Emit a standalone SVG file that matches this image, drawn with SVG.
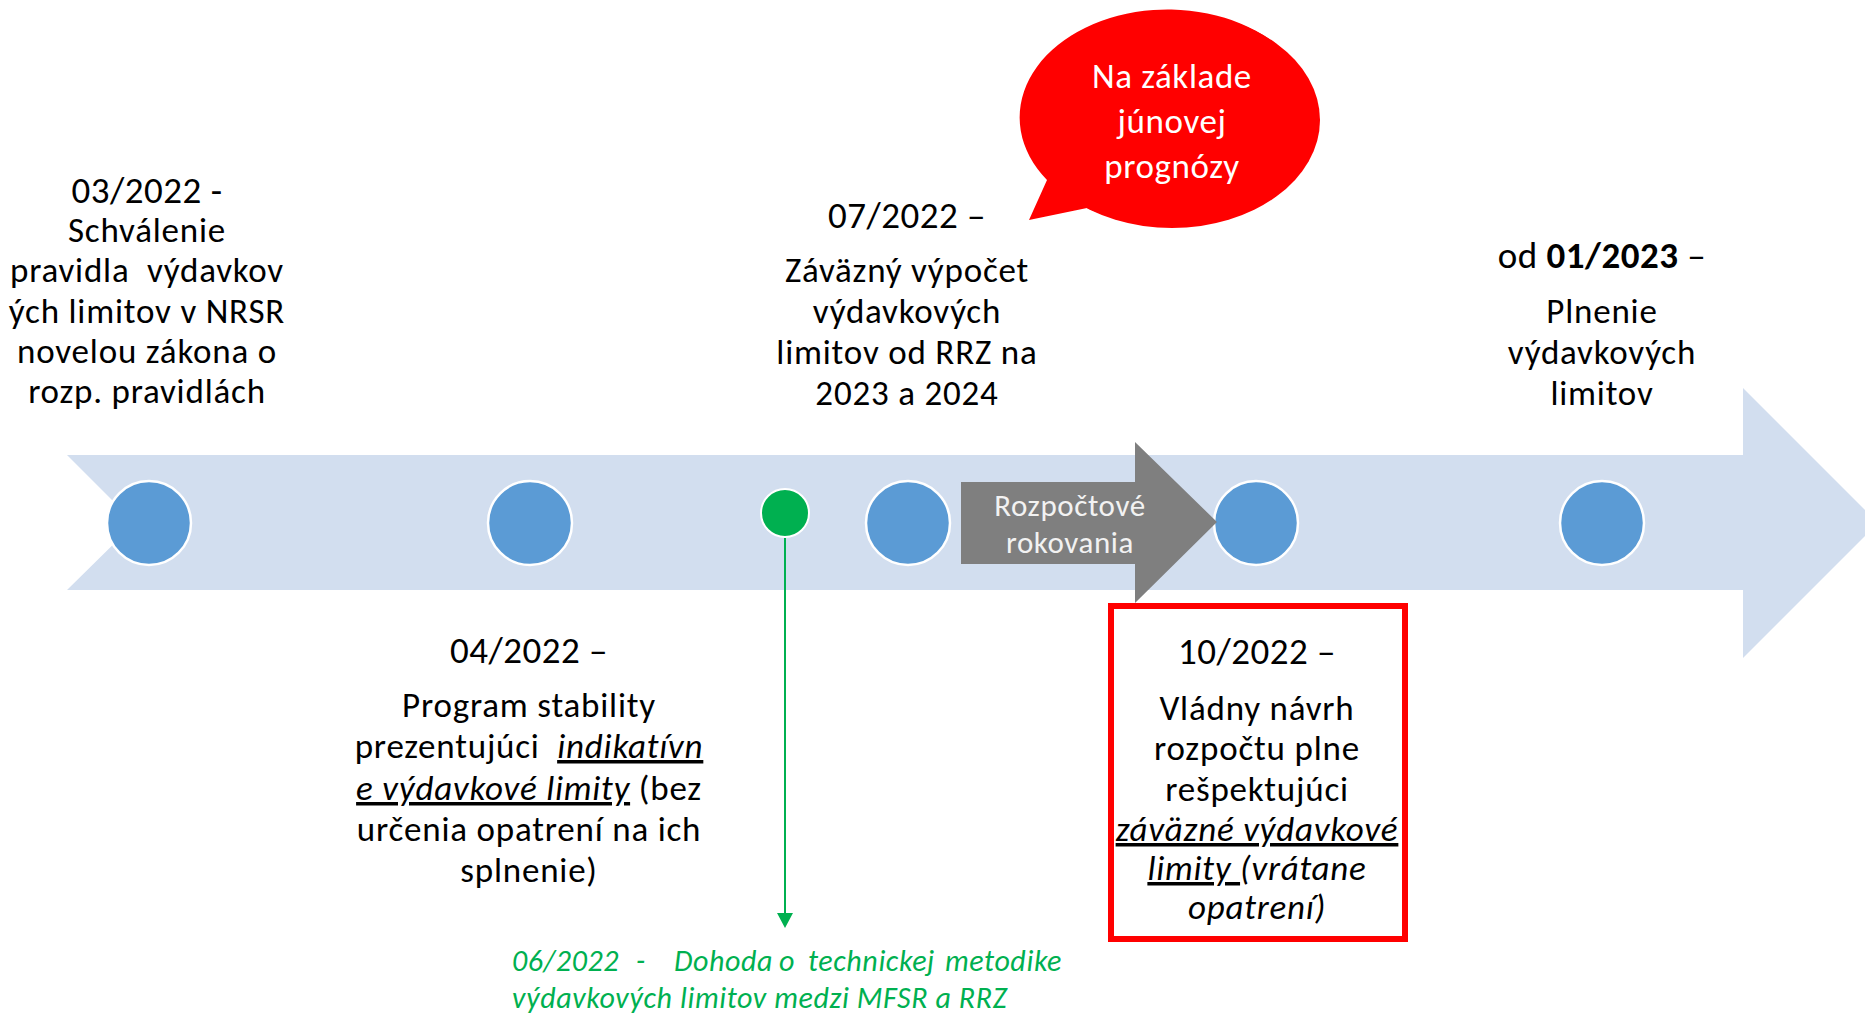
<svg xmlns="http://www.w3.org/2000/svg" width="1865" height="1013" viewBox="0 0 1865 1013">
<style>
  text { font-family: Carlito, Lato, "Liberation Sans", sans-serif; fill: #000; text-anchor: middle; white-space: pre; }
  .date { font-size: 37px; letter-spacing: 0.5px; }
  .body { font-size: 35px; letter-spacing: 0.8px; }
  .it { font-style: italic; }
  .ul { text-decoration: underline; }
  .b { font-weight: bold; }
  .dot { fill: #5B9BD5; stroke: #FFFFFF; stroke-width: 2.5; }
  .bubble { fill: #FF0000; }
  .btxt { font-size: 35px; letter-spacing: 0.6px; fill: #FFFFFF; }
  .gtxt { font-size: 31px; letter-spacing: 0.6px; fill: #F2F2F2; }
  .green { font-size: 30px; letter-spacing: 0.6px; fill: #00B050; font-style: italic; text-anchor: start; }
</style>

<g id="timeline-band">
  <polygon points="67,455 1743,455 1743,388 1878,523 1743,658 1743,590 67,590 135,523" fill="#D2DEEF"/>
</g>

<g id="connectors">
  <line x1="785" y1="538" x2="785" y2="914" stroke="#00B050" stroke-width="2"/>
  <polygon points="777,913 793,913 785,928" fill="#00B050"/>
</g>

<g id="node-03-2022">
  <circle class="dot" cx="149" cy="523" r="42"/>
  <text class="date" x="147" y="203">03/2022 -</text>
  <text class="body" x="147" y="242">Schválenie</text>
  <text class="body" x="147" y="282">pravidla  výdavkov</text>
  <text class="body" x="147" y="323">ých limitov v NRSR</text>
  <text class="body" x="147" y="363">novelou zákona o</text>
  <text class="body" x="147" y="403">rozp. pravidlách</text>
</g>

<g id="node-04-2022">
  <circle class="dot" cx="530" cy="523" r="42"/>
  <text class="date" x="529" y="663">04/2022 –</text>
  <text class="body" x="529" y="717">Program stability</text>
  <text class="body" x="529" y="758">prezentujúci  <tspan class="it ul">indikatívn</tspan></text>
  <text class="body" x="529" y="800"><tspan class="it ul">e výdavkové limity</tspan> (bez</text>
  <text class="body" x="529" y="841">určenia opatrení na ich</text>
  <text class="body" x="529" y="882">splnenie)</text>
</g>

<g id="node-06-2022">
  <circle cx="785" cy="513" r="24" fill="#00B050" stroke="#FFFFFF" stroke-width="2"/>
  <text class="green" y="971"><tspan x="512">06/2022</tspan><tspan x="636">-</tspan><tspan x="674">Dohoda</tspan><tspan x="779">o</tspan><tspan x="808">technickej</tspan><tspan x="945">metodike</tspan></text>
  <text class="green" x="512" y="1008">výdavkových limitov medzi MFSR a RRZ</text>
</g>

<g id="node-07-2022">
  <circle class="dot" cx="908" cy="523" r="42"/>
  <text class="date" x="907" y="228">07/2022 –</text>
  <text class="body" x="907" y="282">Záväzný výpočet</text>
  <text class="body" x="907" y="323">výdavkových</text>
  <text class="body" x="907" y="364">limitov od RRZ na</text>
  <text class="body" x="907" y="405">2023 a 2024</text>
</g>

<g id="bubble">
  <path class="bubble" d="M1047,180 L1029,220 L1087,208 A148,108 0 1 0 1047,180 Z"/>
  <ellipse class="bubble" cx="1172" cy="120" rx="148" ry="108"/>
  <text class="btxt" x="1172" y="88">Na základe</text>
  <text class="btxt" x="1172" y="133">júnovej</text>
  <text class="btxt" x="1172" y="178">prognózy</text>
</g>

<g id="node-10-2022">
  <circle class="dot" cx="1256" cy="523" r="42"/>
  <rect x="1111" y="606" width="294" height="333" fill="none" stroke="#FF0000" stroke-width="6"/>
  <text class="date" x="1257" y="664">10/2022 –</text>
  <text class="body" x="1257" y="720">Vládny návrh</text>
  <text class="body" x="1257" y="760">rozpočtu plne</text>
  <text class="body" x="1257" y="801">rešpektujúci</text>
  <text class="body it ul" x="1257" y="841">záväzné výdavkové</text>
  <text class="body it" x="1257" y="880"><tspan class="ul">limity </tspan>(vrátane</text>
  <text class="body it" x="1257" y="919">opatrení)</text>
</g>

<g id="rokovania">
  <polygon points="961,482 1135,482 1135,442 1217,522 1135,603 1135,564 961,564" fill="#7F7F7F"/>
  <text class="gtxt" x="1070" y="516">Rozpočtové</text>
  <text class="gtxt" x="1070" y="553">rokovania</text>
</g>

<g id="node-01-2023">
  <circle class="dot" cx="1602" cy="523" r="42"/>
  <text class="date" x="1602" y="268">od <tspan class="b">01/2023</tspan> –</text>
  <text class="body" x="1602" y="323">Plnenie</text>
  <text class="body" x="1602" y="364">výdavkových</text>
  <text class="body" x="1602" y="405">limitov</text>
</g>
</svg>
